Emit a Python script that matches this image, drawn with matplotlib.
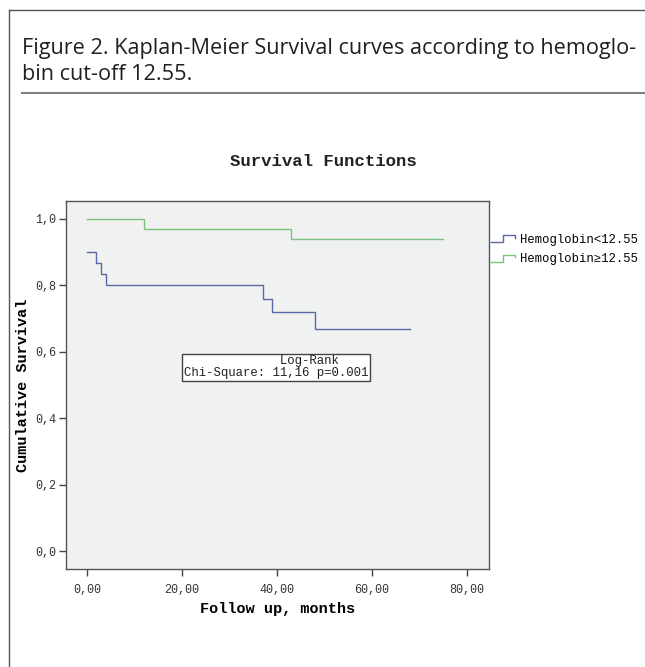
import matplotlib
matplotlib.use("Agg")
import matplotlib.pyplot as plt
from matplotlib.lines import Line2D
from matplotlib.legend_handler import HandlerBase

# Kaplan-Meier steps (months, cumulative survival)
time_low = [0, 2, 3, 4, 37, 39, 48, 68]
surv_low = [0.90, 0.867, 0.833, 0.80, 0.76, 0.72, 0.668, 0.668]
time_high = [0, 12, 43, 75]
surv_high = [1.0, 0.97, 0.941, 0.941]

labels = ["Hemoglobin<12.55", "Hemoglobin\u226512.55"]
x_ticks = [0, 20, 40, 60, 80]
x_ticklabels = ["0,00", "20,00", "40,00", "60,00", "80,00"]
y_ticks = [0.0, 0.2, 0.4, 0.6, 0.8, 1.0]
y_ticklabels = ["0,0", "0,2", "0,4", "0,6", "0,8", "1,0"]

caption_1 = "Figure 2. Kaplan-Meier Survival curves according to hemoglo-"
caption_2 = "bin cut-off 12.55."
logrank = " " * 13 + "Log-Rank\nChi-Square: 11,16 p=0.001"

blue = "#5b68a6"
green = "#7cc47e"
mono = ["Liberation Mono", "DejaVu Sans Mono"]


# legend symbol drawn as a little step, like SPSS does
class StepHandler(HandlerBase):
    def create_artists(self, legend, orig_handle, xdescent, ydescent,
                       width, height, fontsize, trans):
        w, h = width, height
        xs = [-xdescent, -xdescent + 0.5 * w, -xdescent + 0.5 * w, -xdescent + w, -xdescent + w]
        ys = [-ydescent + 0.05 * h, -ydescent + 0.05 * h, -ydescent + 0.95 * h,
              -ydescent + 0.95 * h, -ydescent + 0.6 * h]
        line = Line2D(xs, ys, color=orig_handle.get_color(), lw=1.0)
        line.set_transform(trans)
        return [line]


fig = plt.figure(figsize=(6.45, 6.67), dpi=100)

# page frame and caption
fig.add_artist(Line2D([9 / 645, 1], [1 - 10 / 667, 1 - 10 / 667], color="#555555", lw=1.0))
fig.add_artist(Line2D([9 / 645, 9 / 645], [0, 1 - 10 / 667], color="#555555", lw=1.0))
fig.add_artist(Line2D([22 / 645, 1], [1 - 93 / 667, 1 - 93 / 667], color="#808080", lw=1.5))
fig.text(22 / 645, 1 - 54 / 667, caption_1, family="Open Sans", fontsize=15.6,
         color="#231f20", va="baseline", ha="left")
fig.text(22 / 645, 1 - 80 / 667, caption_2, family="Open Sans", fontsize=15.6,
         color="#231f20", va="baseline", ha="left")

ax = fig.add_axes([66 / 645, 1 - 569 / 667, (489 - 66) / 645, (569 - 201) / 667])
ax.set_facecolor("#f0f1f1")

l1, = ax.step(time_low, surv_low, where="post", color=blue, lw=1.0)
l2, = ax.step(time_high, surv_high, where="post", color=green, lw=1.0)

ax.set_xlim(-4.4, 84.6)
ax.set_ylim(-0.054, 1.054)
ax.set_xticks(x_ticks)
ax.set_xticklabels(x_ticklabels, family=mono, fontsize=8.5, color="#333333")
ax.set_yticks(y_ticks)
ax.set_yticklabels(y_ticklabels, family=mono, fontsize=8.5, color="#333333")
ax.tick_params(axis="x", length=5, width=1.0, color="#444444", pad=6)
ax.tick_params(axis="y", length=5, width=1.0, color="#444444", pad=2)
for s in ax.spines.values():
    s.set_color("#555555")
    s.set_linewidth(1.0)

ax.set_xlabel("Follow up, months", family=mono, fontsize=11, fontweight="bold", labelpad=4)
ax.set_ylabel("Cumulative Survival", family=mono, fontsize=11, fontweight="bold", labelpad=4)
fig.text(323 / 645, 1 - 161 / 667, "Survival Functions", family=mono, fontsize=12.5,
         fontweight="bold", ha="center", va="center", color="#222222")

# log-rank box
ax.text(20.4, 0.553, logrank, family=mono, fontsize=8.9, ha="left", va="center",
        linespacing=1.0, color="#222222",
        bbox=dict(boxstyle="square,pad=0.15", facecolor="white", edgecolor="#444444", lw=1.0))

fig.legend([l1, l2], labels, handler_map={Line2D: StepHandler()},
           loc="upper left", bbox_to_anchor=(491 / 645, 1 - 234 / 667),
           frameon=False, borderpad=0, borderaxespad=0, handlelength=2.0,
           handleheight=0.6, handletextpad=0.35, labelspacing=0.6,
           prop={"family": mono, "size": 8.8})

fig.savefig("out.png", dpi=100)
